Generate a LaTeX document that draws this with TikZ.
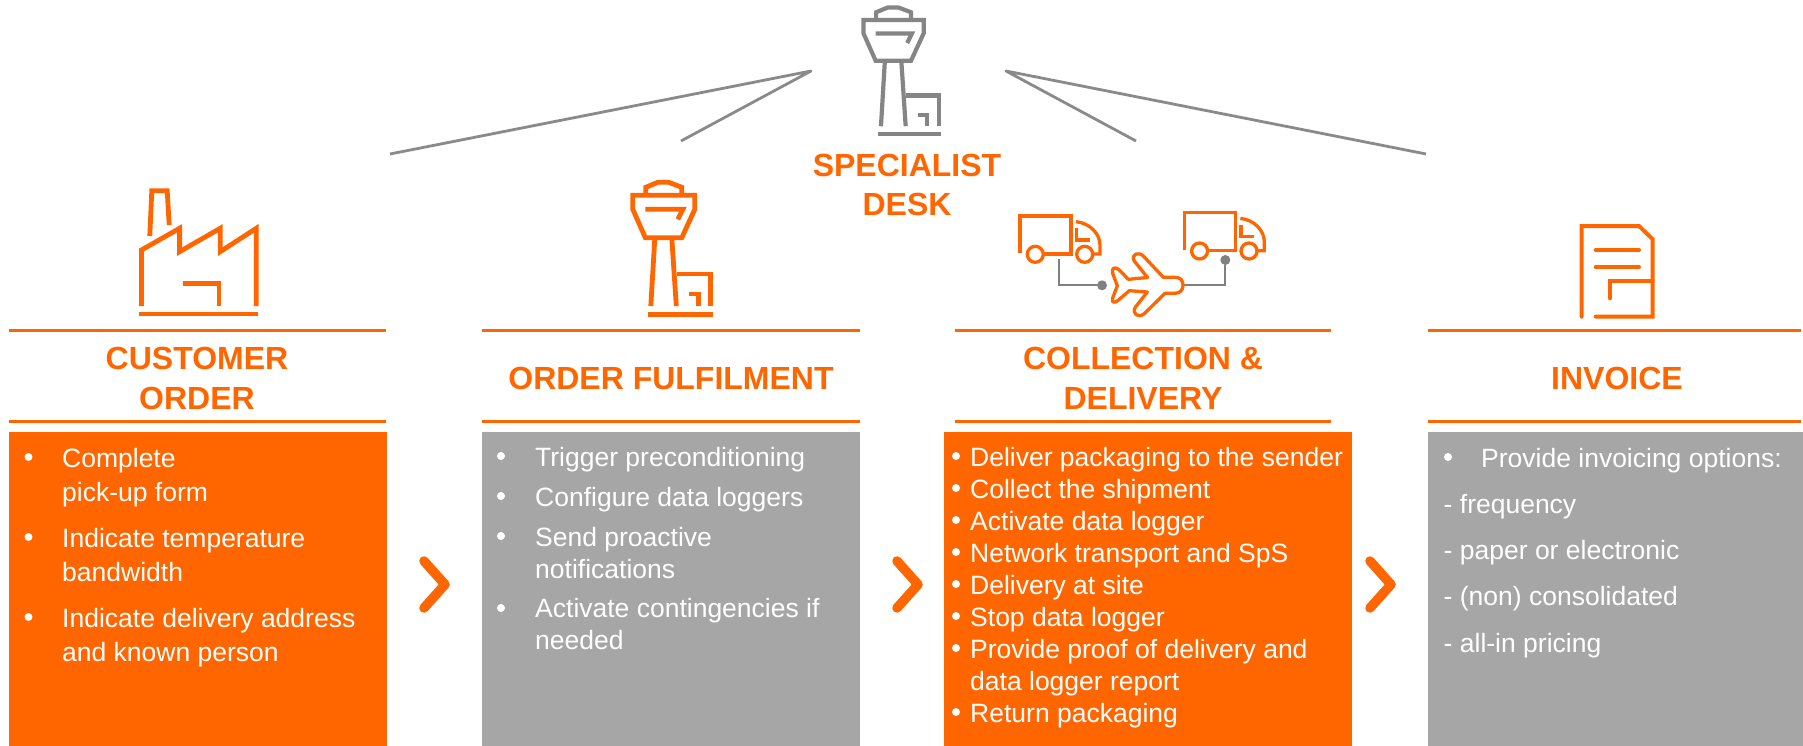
\documentclass[tikz,border=0pt]{standalone}
\usepackage{xcolor}
\usepackage{fontspec}
\setmainfont{Liberation Sans}
\usepackage{tikz}
\usetikzlibrary{calc}

\definecolor{brandorange}{HTML}{FF6600}
\definecolor{panelgrey}{HTML}{A6A6A6}
\definecolor{linegrey}{HTML}{8A8A8A}
\definecolor{towergrey}{HTML}{858585}

\tikzset{
	panel/.style={anchor=north west,inner sep=0pt,minimum height=314pt},
	bodytext/.style={anchor=base west,inner sep=0pt,text=white,font=\fontsize{26.5}{32}\selectfont},
	headtext/.style={anchor=base,inner sep=0pt,text=brandorange,font=\fontsize{32}{38}\selectfont\bfseries},
	headrule/.style={draw=brandorange,line width=3pt},
	chevron/.style={draw=brandorange,line width=9.5pt,line cap=round,line join=round},
	icon/.style={color=brandorange,line width=4.8pt},
	thinicon/.style={color=brandorange,line width=3.3pt},
	spoke/.style={draw=linegrey,line width=2.8pt,line join=round},
	link/.style={draw=gray,line width=2.2pt},
	tower/.pic={
		\draw (13,11) -- (13,5) -- (25,0) -- (36,0) -- (49,5) -- (49,11);
		\draw (0,13) -- (0,27) -- (12.5,55.4) -- (49,55.4) -- (62,27) -- (62,13) -- cycle;
		\draw (12.5,27) -- (50,27) -- (45,37);
		\draw (22,56) -- (18,123.7);
		\draw (39,56) -- (43.5,123.7);
		\draw (44,91.7) -- (78,91.7) -- (78,123.7);
		\draw (56,111.7) -- (65.5,111.7) -- (65.5,123.7);
		\draw (15,132) -- (80,132);
	},
	truck/.pic={
		\draw (0,37.3) -- (0,0) -- (51,0) -- (51,38) -- (23,38);
		\draw (15.3,38.3) circle [radius=8];
		\draw (64.7,38.3) circle [radius=8];
		\draw (56,5.7) .. controls (70,7) and (80,18) .. (80,29) -- (80,38) -- (73,38);
		\draw (56.7,12.3) -- (56.7,24) -- (70,24);
	}
}

\begin{document}
\begin{tikzpicture}[x=1pt,y=-1pt]
	\useasboundingbox (0,0) rectangle (1803,746);

	% panels
	\node[panel,fill=brandorange,minimum width=378pt] (panelA) at (9,432) {};
	\node[panel,fill=panelgrey,minimum width=378pt] (panelB) at (482,432) {};
	\node[panel,fill=brandorange,minimum width=408pt] (panelC) at (944,432) {};
	\node[panel,fill=panelgrey,minimum width=375pt] (panelD) at (1428,432) {};

	% heading rules
	\foreach \xa/\xb in {9/386,482/860,955/1331,1428/1801} {
		\draw[headrule] (\xa,330.5) -- (\xb,330.5);
		\draw[headrule] (\xa,421.5) -- (\xb,421.5);
	}

	% headings
	\node[headtext] (headA) at (197,369) {CUSTOMER};
	\node[headtext] (headAb) at (197,409) {ORDER};
	\node[headtext] (headB) at (671,389) {ORDER FULFILMENT};
	\node[headtext] (headC) at (1143,369) {COLLECTION \&};
	\node[headtext] (headCb) at (1143,409) {DELIVERY};
	\node[headtext] (headD) at (1617,389) {INVOICE};
	\node[headtext] (deskA) at (907,177) {SPECIALIST};
	\node[headtext] (deskB) at (907,215) {DESK};

	% panel texts
	\foreach \y/\t in {467/Complete,501/pick-up form,547/Indicate temperature,581/bandwidth,627/Indicate delivery address,661/and known person}
		\node[bodytext] (lineA\y) at (62,\y) {\t};
	\foreach \y in {457,537,617}
		\fill[white] (28.5,\y) circle [radius=4];

	\foreach \y/\t in {466/Trigger preconditioning,506/Configure data loggers,546/Send proactive,578/notifications,617/Activate contingencies if,649/needed}
		\node[bodytext] (lineB\y) at (535,\y) {\t};
	\foreach \y in {456,496,536,608}
		\fill[white] (501,\y) circle [radius=4];

	\foreach \y/\t in {466/Deliver packaging to the sender,498/Collect the shipment,530/Activate data logger,562/Network transport and SpS,594/Delivery at site,626/Stop data logger,658/Provide proof of delivery and,690/data logger report,722/Return packaging}
		\node[bodytext] (lineC\y) at (970,\y) {\t};
	\foreach \y in {456,488,520,552,584,616,648,712}
		\fill[white] (956,\y) circle [radius=4];

	\node[bodytext] (lineD0) at (1481,467) {Provide invoicing options:};
	\fill[white] (1448,457) circle [radius=4];
	\foreach \y/\t in {513/{- frequency},559/{- paper or electronic},605/{- (non) consolidated},652/{- all-in pricing}}
		\node[bodytext] (lineD\y) at (1443.5,\y) {\t};

	% arrows between panels
	\foreach \dx in {0,473,946}
		\draw[chevron] (424+\dx,561) -- (445+\dx,584.5) -- (424+\dx,608);

	% specialist desk
	\path (863.5,7.5) pic[xscale=0.97,yscale=0.96,color=towergrey,line width=4.2pt] {tower};
	\coordinate (deskL) at (811,71);
	\coordinate (deskR) at (1006,71);
	\coordinate (spokeA) at (390,154);
	\coordinate (spokeB) at (681,141);
	\coordinate (spokeC) at (1136,141);
	\coordinate (spokeD) at (1426,154);
	\draw[spoke] (spokeA) -- (deskL) -- (spokeB);
	\draw[spoke] (spokeD) -- (deskR) -- (spokeC);

	% factory
	\begin{scope}[icon]
		\draw (149.8,236) -- (151.8,190.7) -- (167.2,190.7) -- (169.2,225);
		\draw (141.5,306) -- (141.5,250) -- (179.6,228.3) -- (179.6,251.7) -- (220.2,228.3) -- (220.2,251.7) -- (256.3,228.3) -- (256.3,306);
		\draw (183,283.3) -- (219,283.3) -- (219,306);
		\draw (139.4,314) -- (257.5,314);
	\end{scope}

	% control tower
	\path (632.8,182.3) pic[icon] {tower};

	% trucks and plane
	\coordinate (tailA) at (1059,259.3);
	\coordinate (bendA) at (1059,285.3);
	\coordinate (noseB) at (1183,285.3);
	\coordinate (bendB) at (1225.3,285.3);
	\node[circle,fill=gray,inner sep=0pt,minimum size=10pt] (dotA) at (1102,285.3) {};
	\node[circle,fill=gray,inner sep=0pt,minimum size=10pt] (dotB) at (1225.3,260) {};
	\draw[link] (tailA) -- (bendA) -- (dotA);
	\draw[link] (noseB) -- (bendB) -- (dotB);
	\path (1020,216) pic[thinicon] {truck};
	\path (1184.3,212.7) pic[thinicon] {truck};
	\draw[thinicon,line join=round] (1175,277.3) -- (1163.3,277.3) -- (1144,256.7) .. controls (1139,251) and (1131,254) .. (1134,260.7) -- (1147.5,277.5) -- (1128.3,279.3) -- (1119.3,270) .. controls (1115,266) and (1111,268) .. (1112.7,273.5) -- (1117.3,285.7) -- (1112.7,298) .. controls (1111,303) and (1115,303) .. (1118,300.5) -- (1129.3,290.7) -- (1147.3,292) -- (1135.5,307) .. controls (1131,314) and (1139,319) .. (1145,313) -- (1165,293.3) -- (1175,293.3) .. controls (1180,293.3) and (1183,290) .. (1183,285.3) .. controls (1183,281) and (1181,277.3) .. (1175,277.3);

	% invoice
	\begin{scope}[icon,line width=4pt,line cap=round]
		\draw (1581.7,316.7) -- (1581.7,226) -- (1639,226) -- (1652.7,239.3) -- (1652.7,316.7) -- (1595.7,316.7);
		\draw (1595.7,250) -- (1639,250);
		\draw (1595.7,267.3) -- (1639,267.3);
		\draw (1610,298.3) -- (1610,280.7) -- (1652.7,280.7);
	\end{scope}
\end{tikzpicture}
\end{document}
